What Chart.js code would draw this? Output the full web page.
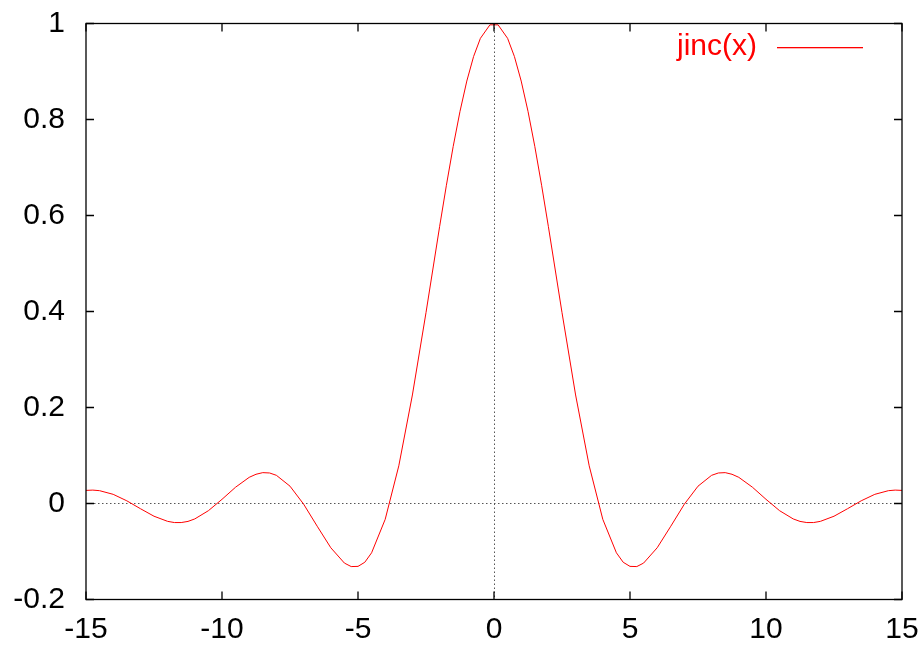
<!DOCTYPE html>
<html>
<head>
<meta charset="utf-8">
<script src="https://cdn.jsdelivr.net/npm/chart.js@4/dist/chart.umd.min.js"></script>
<style>
html, body { margin: 0; padding: 0; background: #fff; }
</style>
</head>
<body>
<canvas id="c" width="922" height="648"></canvas>
<script>
// jinc(x)
let xs = [-15,-14.75,-14.5,-14,-13.5,-13,-12.5,-12,-11.75,-11.5,-11.25,-11,-10.5,-10,-9.5,-9,-8.75,-8.5,-8.25,-8,-7.5,-7,-6.5,-6,-5.5,-5.25,-5,-4.75,-4.5,-4,-3.5,-3,-2.5,-2,-1.75,-1.5,-1.25,-1,-0.75,-0.5,-0.15,
  0.15,0.5,0.75,1,1.25,1.5,1.75,2,2.5,3,3.5,4,4.5,4.75,5,5.25,5.5,6,6.5,7,7.5,8,8.25,8.5,8.75,9,9.5,10,10.5,11,11.25,11.5,11.75,12,12.5,13,13.5,14,14.5,14.75,15];
let ys = [0.0273,0.0279,0.0267,0.0191,0.0056,-0.0108,-0.0265,-0.0372,-0.0397,-0.0397,-0.0373,-0.0321,-0.0150,0.0087,0.0340,0.0545,0.0609,0.0643,0.0636,0.0587,0.0361,-0.0013,-0.0473,-0.0922,-0.1241,-0.1314,-0.1310,-0.1224,-0.1027,-0.0330,0.0785,0.2261,0.3977,0.5767,0.6630,0.7439,0.8170,0.8801,0.9313,0.9691,0.9972,
  0.9972,0.9691,0.9313,0.8801,0.8170,0.7439,0.6630,0.5767,0.3977,0.2261,0.0785,-0.0330,-0.1027,-0.1224,-0.1310,-0.1314,-0.1241,-0.0922,-0.0473,-0.0013,0.0361,0.0587,0.0636,0.0643,0.0609,0.0545,0.0340,0.0087,-0.0150,-0.0321,-0.0373,-0.0397,-0.0397,-0.0372,-0.0265,-0.0108,0.0056,0.0191,0.0267,0.0279,0.0273];
let xTicks = [-15,-10,-5,0,5,10,15];
let yTicks = [-0.2,0,0.2,0.4,0.6,0.8,1];
let seriesName = "jinc(x)";

let points = xs.map((x, i) => ({x: x, y: ys[i]}));
let fontName = "'Liberation Sans', Arial, sans-serif";
let lineColor = "rgb(255, 0, 0)";

// gnuplot style frame: zero axes, border, inward ticks, key
let gnuFrame = {
    id: "gnuFrame",
    beforeDatasetsDraw(chart){
        let ctx = chart.ctx, a = chart.chartArea;
        let sx = chart.scales.x, sy = chart.scales.y;
        ctx.save();
        ctx.strokeStyle = "#555";
        ctx.lineWidth = 1;
        ctx.setLineDash([1.5, 2.5]);
        let y0 = Math.round(sy.getPixelForValue(0)) + 0.5;
        let x0 = Math.round(sx.getPixelForValue(0)) + 0.5;
        ctx.beginPath();
        ctx.moveTo(a.left, y0); ctx.lineTo(a.right, y0);
        ctx.moveTo(x0, a.top); ctx.lineTo(x0, a.bottom);
        ctx.stroke();
        ctx.restore();
    },
    afterDatasetsDraw(chart){
        let ctx = chart.ctx, a = chart.chartArea;
        let sx = chart.scales.x, sy = chart.scales.y;
        let tl = 8;
        ctx.save();
        ctx.strokeStyle = "#000";
        ctx.lineWidth = 1.3;
        ctx.strokeRect(a.left, a.top, a.right - a.left, a.bottom - a.top);
        ctx.beginPath();
        xTicks.forEach(v => {
            let px = sx.getPixelForValue(v);
            ctx.moveTo(px, a.bottom); ctx.lineTo(px, a.bottom - tl);
            ctx.moveTo(px, a.top); ctx.lineTo(px, a.top + tl);
        });
        yTicks.forEach(v => {
            let py = sy.getPixelForValue(v);
            ctx.moveTo(a.left, py); ctx.lineTo(a.left + tl, py);
            ctx.moveTo(a.right, py); ctx.lineTo(a.right - tl, py);
        });
        ctx.stroke();
        ctx.restore();

        // key
        let ds = chart.data.datasets[0];
        ctx.save();
        ctx.fillStyle = lineColor;
        ctx.font = "30px " + fontName;
        ctx.textAlign = "right";
        ctx.textBaseline = "middle";
        ctx.fillText(ds.label, 757, 47);
        ctx.fillRect(777, 47, 86, 1.3);
        ctx.restore();
    }
};

let chart = new Chart(document.getElementById("c").getContext("2d"), {
    type: "scatter",
    data: {
        datasets: [{
            label: seriesName,
            data: points,
            showLine: true,
            borderColor: lineColor,
            borderWidth: 1,
            pointRadius: 0,
            tension: 0,
            fill: false
        }]
    },
    options: {
        responsive: false,
        animation: false,
        layout: { padding: { top: 23.5, right: 20, left: 0, bottom: 0 } },
        plugins: { legend: { display: false }, tooltip: { enabled: false } },
        scales: {
            x: {
                type: "linear",
                min: -15, max: 15,
                afterBuildTicks: s => { s.ticks = xTicks.map(v => ({value: v})); },
                afterFit: s => { s.height = 48.5; s.paddingLeft = 0; s.paddingRight = 0; },
                grid: { display: false, drawTicks: false },
                border: { display: false },
                ticks: { color: "#000", font: { family: fontName, size: 30 }, padding: 12, maxRotation: 0, autoSkip: false }
            },
            y: {
                type: "linear",
                min: -0.2, max: 1,
                afterBuildTicks: s => { s.ticks = yTicks.map(v => ({value: v})); },
                afterFit: s => { s.width = 86; s.paddingTop = 0; s.paddingBottom = 0; },
                grid: { display: false, drawTicks: false },
                border: { display: false },
                ticks: { color: "#000", font: { family: fontName, size: 30 }, padding: 21, autoSkip: false,
                    callback: v => String(Number(v.toFixed(1))) }
            }
        }
    },
    plugins: [gnuFrame]
});
</script>
</body>
</html>
